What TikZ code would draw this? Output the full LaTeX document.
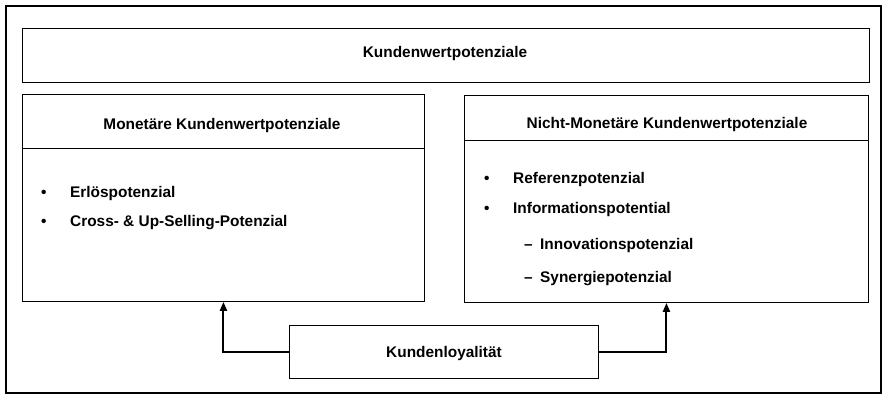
\documentclass[tikz,border=0pt]{standalone}
\usepackage{fontspec}
\setmainfont{Liberation Sans}
\usetikzlibrary{arrows.meta}
\begin{document}
\begin{tikzpicture}[x=1pt,y=-1pt,
  box/.style={draw=black,line width=0.9pt,rectangle,inner sep=0pt,anchor=north west},
  head/.style={anchor=base,inner sep=0pt,font=\bfseries\fontsize{15.4}{18}\selectfont},
  item/.style={anchor=base west,inner sep=0pt,font=\bfseries\fontsize{15.4}{18}\selectfont},
  arr/.style={line width=2pt,-{Triangle[length=9pt,width=7pt]}}]
\useasboundingbox (0,0) rectangle (884,395);
\draw[line width=1.6pt] (6,6) rectangle (881,393);
% top box
\node[box,minimum width=847pt,minimum height=54pt] (top) at (22,28) {};
\node[head] (toptext) at (445,58) {Kundenwertpotenziale};
% left box
\node[box,minimum width=402pt,minimum height=54pt] (mon) at (22,94) {};
\node[head] (montext) at (222,130) {Monetäre Kundenwertpotenziale};
\node[box,minimum width=402pt,minimum height=153pt] (monbody) at (22,148) {};
% right box
\node[box,minimum width=404pt,minimum height=45pt] (nmon) at (464,95) {};
\node[head] (nmontext) at (667,129) {Nicht-Monetäre Kundenwertpotenziale};
\node[box,minimum width=404pt,minimum height=162pt] (nmonbody) at (464,140) {};
% bottom box
\node[box,minimum width=309pt,minimum height=53pt] (loy) at (289,325) {};
\node[head] (loytext) at (444,358) {Kundenloyalität};
% left items
\node[item] (b1) at (41,198) {•};
\node[item] (t1) at (70,198) {Erlöspotenzial};
\node[item] (b2) at (41,227) {•};
\node[item] (t2) at (70,227) {Cross- \& Up-Selling-Potenzial};
% right items
\node[item] (b3) at (484,184) {•};
\node[item] (t3) at (513,184) {Referenzpotenzial};
\node[item] (b4) at (484,214) {•};
\node[item] (t4) at (513,214) {Informationspotential};
\node[item] (d1) at (524,250) {–};
\node[item] (t5) at (540,250) {Innovationspotenzial};
\node[item] (d2) at (524,283) {–};
\node[item] (t6) at (540,283) {Synergiepotenzial};
% arrows
\draw[arr] (loy.west) -| (monbody.south);
\draw[arr] (loy.east) -| (nmonbody.south);
\end{tikzpicture}
\end{document}
